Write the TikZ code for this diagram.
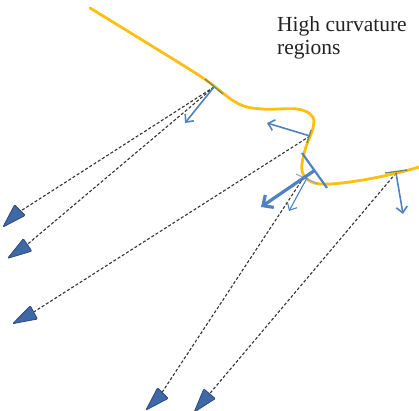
\documentclass[tikz,border=0pt]{standalone}
\usepackage{fontspec}
\setmainfont{Liberation Serif}
\usetikzlibrary{arrows.meta,shapes.geometric,calc}
\definecolor{gold}{HTML}{FFBE12}
\definecolor{nblue}{HTML}{5081C2}
\definecolor{camblue}{HTML}{3F69A6}
\definecolor{camedge}{HTML}{2C4A7A}
\definecolor{raygray}{HTML}{333333}
\definecolor{tgreen}{HTML}{6A8C5E}
\definecolor{txt}{HTML}{222222}
\tikzset{
  surface/.style={draw=gold,line width=2.8pt,line cap=round},
  normal/.style={-{Straight Barb[length=6pt,width=11pt]},draw=nblue,line width=1.6pt},
  bignormal/.style={-{Straight Barb[length=8pt,width=15pt]},draw=nblue,line width=3.2pt},
  tangent/.style={draw=tgreen,line width=1.3pt},
  ray/.style={draw=raygray,line width=1.1pt,dash pattern=on 3pt off 2pt},
  cam/.style={
    isosceles triangle,isosceles triangle stretches,
    draw=camedge,fill=camblue,line width=.8pt,rounded corners=1pt,
    inner sep=0pt,minimum width=15pt,minimum height=24pt
  }
}
\begin{document}
\begin{tikzpicture}[x=1pt,y=-1pt]
\useasboundingbox (0,0) rectangle (419,410);

% points on the surface and ends of the normals
\coordinate (p1) at (214,87);
\coordinate (p2) at (310,136);
\coordinate (p3) at (304,177);
\coordinate (p4) at (396,173);
\coordinate (n1) at (185,123);
\coordinate (n2) at (267,123);
\coordinate (n3) at (261,207);
\coordinate (n3b) at (289,211);
\coordinate (n4) at (403,214);

% cameras
\node[cam,rotate=225] (c1) at (16,214) {};
\node[cam,rotate=214] (c2) at (23,248) {};
\node[cam,rotate=208] (c3) at (29,315) {};
\node[cam,rotate=225] (c4) at (159,397) {};
\node[cam,rotate=230] (c5) at (206,398) {};

\draw[ray] (p1)--(c1);
\draw[ray] (p1)--(c2);
\draw[ray] (p2)--(c3);
\draw[ray] (p3)--(c4);
\draw[ray] (p4)--(c5);

\draw[surface] plot[smooth,tension=.6] coordinates {(90,8) (147,43) (203,78)
  (237,103) (262,109) (297,109) (312,116) (313,128) (305,150) (302,171)
  (312,182) (330,184) (363,180) (397,173) (419,167)};

\draw[tangent] (205,79)--(223,94);
\draw[tangent] (311,130)--(307,143);
\draw[tangent] (385,173)--(407,170);

\draw[normal] (p1)--(n1);
\draw[normal] (p2)--(n2);
\draw[normal] (p4)--(n4);

% high curvature point
\coordinate (t1) at (302,153);
\coordinate (t2) at (327,188);
\draw[nblue,line width=2.2pt] (t1)--(t2);
\draw[nblue!70,line width=1pt] (296,174)--(318,184);
\draw[bignormal] ($(t1)!.5!(t2)$)--(n3);
\draw[normal,line width=1.1pt] (307,178)--(n3b);

\node[anchor=north west,align=left,text=txt,font=\fontsize{21.5}{23}\selectfont,inner sep=0pt]
  (label) at (277,16) {High curvature\\regions};
\end{tikzpicture}
\end{document}
